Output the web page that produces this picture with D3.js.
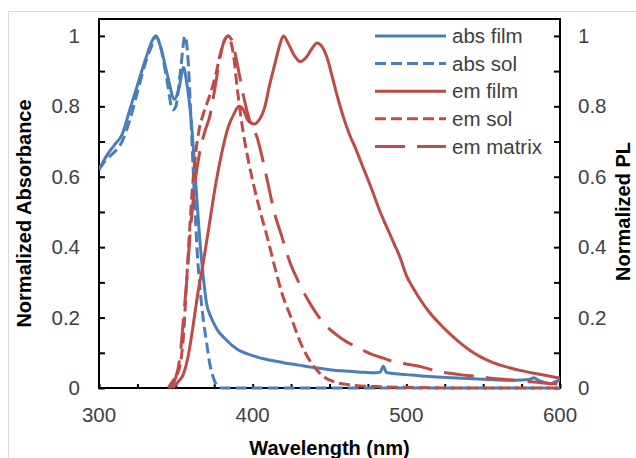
<!DOCTYPE html>
<html>
<head>
<meta charset="utf-8">
<script src="https://cdn.jsdelivr.net/npm/d3@7"></script>
<style>
  html, body { margin: 0; padding: 0; background: #fff; }
  svg { display: block; }
  text { font-family: "Liberation Sans", Arial, sans-serif; }
</style>
</head>
<body>
<svg id="chart" width="636" height="458"></svg>
<script>
// ---------- data ----------
const seriesNames = ["abs film", "abs sol", "em film", "em sol", "em matrix"];

const absFilmX = [300,305,310,315,320,325,330,335,337,340,345,349,352,355,357,360,363,366,368,370,373,377,382,390,400,410,420,430,440,450,460,470,480,483,485,487,490,500,510,520,530,540,550,560,570,580,583,586,590,594,597,600];
const absFilmY = [0.62,0.66,0.69,0.72,0.79,0.86,0.93,0.99,1.0,0.97,0.88,0.82,0.85,0.91,0.87,0.76,0.58,0.40,0.31,0.24,0.20,0.165,0.14,0.11,0.092,0.08,0.072,0.065,0.058,0.052,0.048,0.045,0.043,0.045,0.062,0.044,0.042,0.038,0.034,0.031,0.029,0.027,0.025,0.023,0.022,0.024,0.029,0.022,0.016,0.012,0.018,0.022];

const absSolX = [300,305,310,315,320,325,330,335,337,340,344,348,350,353,356,358,360,362,364,366,368,370,372,374,376,378,380,450,520,600];
const absSolY = [0.62,0.65,0.67,0.70,0.76,0.84,0.92,0.98,1.0,0.97,0.88,0.79,0.80,0.90,1.0,0.93,0.75,0.55,0.38,0.27,0.19,0.13,0.07,0.035,0.012,0.002,0,0,0,0];

const emFilmX = [348,352,355,358,361,364,368,372,376,380,384,388,391,394,397,401,404,408,411,415,418,420,423,427,431,435,438,442,445,449,452,455,459,463,467,472,477,483,488,492,496,500,505,510,515,520,528,535,542,548,556,565,574,583,592,600];
const emFilmY = [0,0.02,0.04,0.09,0.17,0.26,0.36,0.47,0.58,0.67,0.74,0.78,0.80,0.79,0.76,0.75,0.76,0.80,0.86,0.93,0.98,1.0,0.98,0.945,0.927,0.94,0.96,0.98,0.97,0.93,0.88,0.83,0.77,0.72,0.68,0.625,0.57,0.50,0.45,0.41,0.37,0.32,0.28,0.245,0.215,0.19,0.155,0.128,0.105,0.089,0.073,0.06,0.05,0.042,0.035,0.028];

const emSolX = [345,348,351,353,355,357,359,361,363,365,368,372,376,379,382,384,386,388,390,393,397,401,405,410,414,419,425,432,440,447,455,465,480,500,540,600];
const emSolY = [0,0.02,0.04,0.07,0.15,0.30,0.45,0.58,0.67,0.73,0.78,0.83,0.89,0.95,0.99,1.0,0.98,0.93,0.85,0.75,0.65,0.57,0.50,0.42,0.35,0.27,0.20,0.12,0.06,0.03,0.015,0.008,0.004,0.002,0,0];

const emMatrixX = [346,350,353,355,357,359,361,363,366,369,372,375,378,381,384,387,390,394,398,403,407,410,414,419,424,430,436,441,447,452,458,465,472,478,485,492,500,510,518,525,535,545,555,565,575,585,593,600];
const emMatrixY = [0,0.03,0.10,0.20,0.30,0.42,0.52,0.60,0.68,0.73,0.77,0.84,0.92,0.98,1.0,0.98,0.92,0.83,0.76,0.71,0.64,0.58,0.50,0.43,0.36,0.30,0.25,0.215,0.18,0.16,0.14,0.122,0.107,0.095,0.085,0.075,0.068,0.06,0.05,0.044,0.038,0.033,0.028,0.024,0.02,0.016,0.013,0.012];

const xTickLabels = [300, 400, 500, 600];
const yTickLabels = [0, 0.2, 0.4, 0.6, 0.8, 1];

// ---------- styling / layout ----------
const BLUE = "#4A7EBB", RED = "#BE4B48";
const series = [
  {name: seriesNames[0], x: absFilmX, y: absFilmY, color: BLUE, dash: null},
  {name: seriesNames[1], x: absSolX, y: absSolY, color: BLUE, dash: "11,5"},
  {name: seriesNames[2], x: emFilmX, y: emFilmY, color: RED, dash: null},
  {name: seriesNames[3], x: emSolX, y: emSolY, color: RED, dash: "11,5"},
  {name: seriesNames[4], x: emMatrixX, y: emMatrixY, color: RED, dash: "30,12"}
];

const L = 99, R = 560, T = 19, B = 388;
const FS = 20.5, TFS = 20;
const svg = d3.select("#chart");

// chart-area border
svg.append("rect").attr("x", 8.5).attr("y", 11.5).attr("width", 700).attr("height", 500)
  .attr("fill", "#fff").attr("stroke", "#d9d9d9").attr("stroke-width", 1);

const x = d3.scaleLinear().domain([300, 600]).range([L, R]);
const y = d3.scaleLinear().domain([0, 1.048]).range([B, T]);
const y2 = d3.scaleLinear().domain([0, 1.048]).range([B, T]);

// axes with inward ticks
const minorY = d3.range(0, 1.01, 0.1);
const minorX = d3.range(300, 601, 25);

const gL = svg.append("g").attr("transform", `translate(${L},0)`)
  .call(d3.axisRight(y).tickValues(minorY).tickSize(6).tickFormat(""));
const gR = svg.append("g").attr("transform", `translate(${R},0)`)
  .call(d3.axisLeft(y2).tickValues(minorY).tickSize(6).tickFormat(""));
const gB = svg.append("g").attr("transform", `translate(0,${B})`)
  .call(d3.axisTop(x).tickValues(minorX).tickSize(4).tickFormat(""));
[gL, gR, gB].forEach(g => {
  g.select(".domain").remove();
  g.selectAll(".tick line").attr("stroke", "#000").attr("stroke-width", 2);
});

// frame
svg.append("rect").attr("x", L).attr("y", T).attr("width", R - L).attr("height", B - T)
  .attr("fill", "none").attr("stroke", "#000").attr("stroke-width", 2);

// tick labels
const lab = svg.append("g").attr("font-size", FS).attr("fill", "#404040");
lab.selectAll(".yl").data(yTickLabels).join("text")
  .attr("x", 80).attr("y", d => y(d)).attr("dy", "0.35em").attr("text-anchor", "end")
  .text(d => d3.format("~g")(d));
lab.selectAll(".yr").data(yTickLabels).join("text")
  .attr("x", 578).attr("y", d => y2(d)).attr("dy", "0.35em").attr("text-anchor", "start")
  .text(d => d3.format("~g")(d));
lab.selectAll(".xl").data(xTickLabels).join("text")
  .attr("x", d => x(d)).attr("y", 422).attr("text-anchor", "middle")
  .text(d => d);

// axis titles
svg.append("text").attr("transform", `translate(31,${(T + B) / 2 + 10}) rotate(-90)`)
  .attr("text-anchor", "middle").attr("font-size", TFS).attr("font-weight", "bold")
  .attr("fill", "#000").text("Normalized Absorbance");
svg.append("text").attr("transform", `translate(630,${(T + B) / 2 + 8}) rotate(-90)`)
  .attr("text-anchor", "middle").attr("font-size", TFS).attr("font-weight", "bold")
  .attr("fill", "#000").text("Normalized PL");
svg.append("text").attr("x", (L + R) / 2).attr("y", 455)
  .attr("text-anchor", "middle").attr("font-size", TFS).attr("font-weight", "bold")
  .attr("fill", "#000").text("Wavelength (nm)");

// curves
svg.append("clipPath").attr("id", "clip").append("rect")
  .attr("x", L).attr("y", T - 2).attr("width", R - L).attr("height", B - T + 4);
const plot = svg.append("g").attr("clip-path", "url(#clip)");
series.forEach((s, i) => {
  const scaleY = i < 2 ? y : y2;
  const pts = s.x.map((v, k) => [v, s.y[k]]);
  const line = d3.line().x(d => x(d[0])).y(d => scaleY(d[1])).curve(d3.curveMonotoneX);
  plot.append("path").datum(pts).attr("d", line)
    .attr("fill", "none").attr("stroke", s.color).attr("stroke-width", 3)
    .attr("stroke-dasharray", s.dash).attr("stroke-linejoin", "round");
});

// legend
const leg = svg.append("g");
series.forEach((s, i) => {
  const yy = 36 + i * 27.6;
  leg.append("line").attr("x1", 375).attr("x2", 446).attr("y1", yy).attr("y2", yy)
    .attr("stroke", s.color).attr("stroke-width", 3).attr("stroke-dasharray", s.dash);
  leg.append("text").attr("x", 452).attr("y", yy).attr("dy", "0.35em")
    .attr("font-size", FS).attr("fill", "#404040").text(s.name);
});
</script>
</body>
</html>
